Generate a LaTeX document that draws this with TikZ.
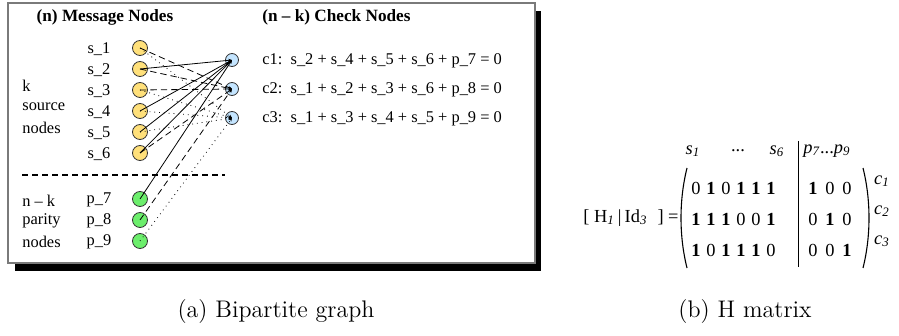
\documentclass[tikz,border=0pt]{standalone}
\usepackage{fontspec}
\newfontfamily\tms{Liberation Serif}
\usetikzlibrary{arrows.meta, positioning}
\definecolor{msgYellow}{HTML}{FFE07A}
\definecolor{parGreen}{HTML}{6CEE6C}
\definecolor{chkBlue}{HTML}{C4E5FF}
\definecolor{frameGrey}{HTML}{7A7A7A}
\tikzset{
  msgnode/.style  = {circle, draw=black!80, line width=0.4pt, minimum size=7.5pt, inner sep=0pt},
  chknode/.style  = {circle, draw=black!80, fill=chkBlue, line width=0.4pt, minimum size=6.5pt, inner sep=0pt},
  lbl/.style      = {font=\tms\fontsize{8.2}{9}\selectfont, inner sep=0pt},
  ttl/.style      = {font=\tms\bfseries\fontsize{8.6}{10}\selectfont, inner sep=0pt},
  mtx/.style      = {font=\tms\fontsize{9.2}{10}\selectfont, inner sep=0pt},
  captxt/.style   = {font=\fontsize{12}{14}\selectfont, inner sep=0pt},
  edge1/.style    = {-{Stealth[length=1.8pt, width=1.5pt]}, line width=0.4pt},
  edge2/.style    = {edge1, dash pattern=on 3.2pt off 2pt},
  edge3/.style    = {edge1, dotted},
}
\newcommand{\bz}{\makebox[7.5pt]{0}}
\newcommand{\bo}{\makebox[7.5pt]{\textbf{1}}}
\newcommand{\rz}{\makebox[8.5pt]{0}}
\newcommand{\ro}{\makebox[8.5pt]{\textbf{1}}}

\begin{document}
\begin{tikzpicture}[x=0.5pt, y=-0.5pt]
  \useasboundingbox (0,0) rectangle (899,336);
  % frame with shadow
  \fill[black] (15,11) rectangle (541,271);
  \draw[frameGrey, fill=white, line width=0.6pt] (8,3) rectangle (535,263);
  \node[ttl] (ttlmsg) at (105,17) {(n) Message Nodes};
  \node[ttl, anchor=west] (ttlchk) at (262,17) {(n \textendash\ k) Check Nodes};
  % message nodes
  \node[msgnode, fill=msgYellow] (s1) at (140,48) {};
  \node[msgnode, fill=msgYellow] (s2) at (140,69) {};
  \node[msgnode, fill=msgYellow] (s3) at (140,90) {};
  \node[msgnode, fill=msgYellow] (s4) at (140,111) {};
  \node[msgnode, fill=msgYellow] (s5) at (140,132) {};
  \node[msgnode, fill=msgYellow] (s6) at (140,153) {};
  \node[msgnode, fill=parGreen] (p7) at (140,199) {};
  \node[msgnode, fill=parGreen] (p8) at (140,220) {};
  \node[msgnode, fill=parGreen] (p9) at (140,241) {};
  \node[lbl] (ls1) at (99,49) {s\_1};
  \node[lbl] (ls2) at (99,70) {s\_2};
  \node[lbl] (ls3) at (99,91) {s\_3};
  \node[lbl] (ls4) at (99,112) {s\_4};
  \node[lbl] (ls5) at (99,133) {s\_5};
  \node[lbl] (ls6) at (99,154) {s\_6};
  \node[lbl] (lp7) at (99,200) {p\_7};
  \node[lbl] (lp8) at (99,221) {p\_8};
  \node[lbl] (lp9) at (99,242) {p\_9};
  \node[lbl, anchor=west] (lk) at (22,86) {k};
  \node[lbl, anchor=west] (lsrc) at (22,107) {source};
  \node[lbl, anchor=west] (lsrcn) at (22,128) {nodes};
  \node[lbl, anchor=west] (lnk) at (22,201) {n \textendash\ k};
  \node[lbl, anchor=west] (lpar) at (22,221) {parity};
  \node[lbl, anchor=west] (lparn) at (22,242) {nodes};
  \coordinate (sepL) at (22,175);
  \coordinate (sepR) at (225,175);
  \draw[line width=1.3pt, dash pattern=on 3pt off 2pt] (sepL) -- (sepR);
  % check nodes
  \node[chknode] (c1) at (232,60) {};
  \node[chknode] (c2) at (232,89) {};
  \node[chknode] (c3) at (232,118) {};
  \node[lbl, anchor=west] (eq1) at (262,61) {c1:\ \ s\_2 + s\_4 + s\_5 + s\_6 + p\_7 = 0};
  \node[lbl, anchor=west] (eq2) at (262,90) {c2:\ \ s\_1 + s\_2 + s\_3 + s\_6 + p\_8 = 0};
  \node[lbl, anchor=west] (eq3) at (262,119) {c3:\ \ s\_1 + s\_3 + s\_4 + s\_5 + p\_9 = 0};
  % edges
  \draw[edge1] (s2.center) -- (c1.center);
  \draw[edge1] (s4.center) -- (c1.center);
  \draw[edge1] (s5.center) -- (c1.center);
  \draw[edge1] (s6.center) -- (c1.center);
  \draw[edge1] (p7.center) -- (c1.center);
  \draw[edge2] (s1.center) -- (c2.center);
  \draw[edge2] (s2.center) -- (c2.center);
  \draw[edge2] (s3.center) -- (c2.center);
  \draw[edge2] (s6.center) -- (c2.center);
  \draw[edge2] (p8.center) -- (c2.center);
  \draw[edge3] (s1.center) -- (c3.center);
  \draw[edge3] (s3.center) -- (c3.center);
  \draw[edge3] (s4.center) -- (c3.center);
  \draw[edge3] (s5.center) -- (c3.center);
  \draw[edge3] (p9.center) -- (c3.center);
  % H matrix
  \node[mtx, anchor=east] (hlhs) at (679,218) {[\ H\textsubscript{\itshape 1}\,|\,Id\textsubscript{\itshape 3}\hspace{5pt}]\ =};
  \node[mtx] (hs1) at (693,151) {\itshape s\textsubscript{1}};
  \node[mtx] (hdots) at (738,151) {...};
  \node[mtx] (hs6) at (777,151) {\itshape s\textsubscript{6}};
  \node[mtx, anchor=west] (hp) at (803,151) {\itshape p\textsubscript{7}\upshape...\itshape p\textsubscript{9}};
  \node[mtx, anchor=west] (r1l) at (688,188) {\bz\bo\bz\bo\bo\bo};
  \node[mtx, anchor=west] (r2l) at (688,219) {\bo\bo\bo\bz\bz\bo};
  \node[mtx, anchor=west] (r3l) at (688,250) {\bo\bz\bo\bo\bo\bz};
  \node[mtx, anchor=west] (r1r) at (804,188) {\ro\rz\rz};
  \node[mtx, anchor=west] (r2r) at (804,219) {\rz\ro\rz};
  \node[mtx, anchor=west] (r3r) at (804,250) {\rz\rz\ro};
  \node[mtx] (hc1) at (882,181) {\itshape c\textsubscript{1}};
  \node[mtx] (hc2) at (882,211) {\itshape c\textsubscript{2}};
  \node[mtx] (hc3) at (882,241) {\itshape c\textsubscript{3}};
  \draw[line width=0.5pt] (798,141) -- (798,267);
  \draw[line width=0.55pt] (687,168) .. controls (679,200) and (679,236) .. (687,268);
  \draw[line width=0.55pt] (863,168) .. controls (871,200) and (871,236) .. (863,268);
  % captions
  \node[captxt] (capa) at (276,312) {(a) Bipartite graph};
  \node[captxt] (capb) at (745,312) {(b) H matrix};
\end{tikzpicture}
\end{document}
